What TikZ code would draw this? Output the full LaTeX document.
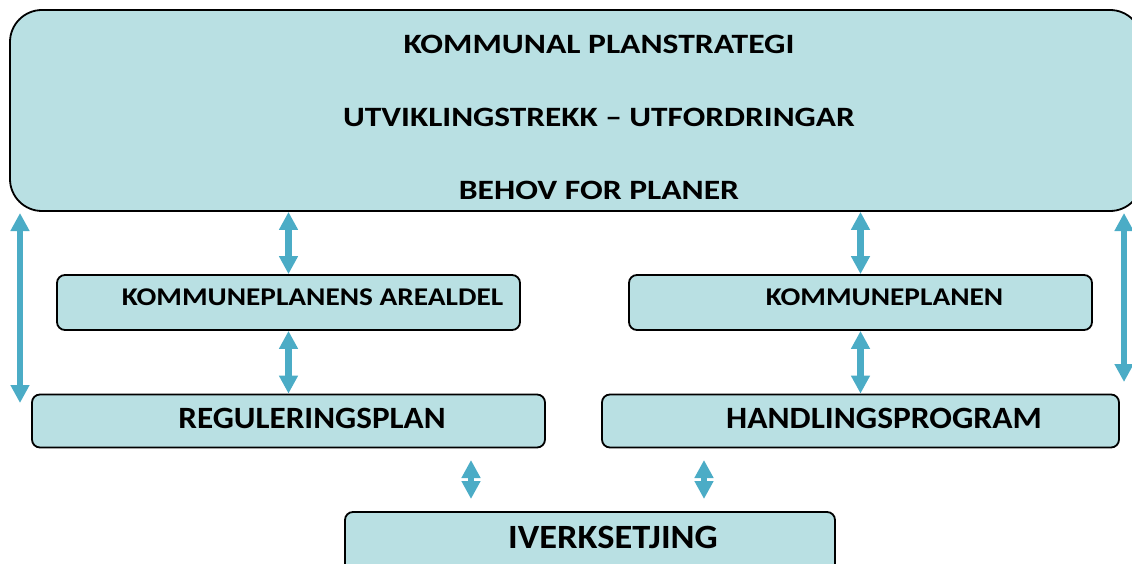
\documentclass[tikz,border=0pt]{standalone}
\usepackage{fontspec}
\setmainfont{Carlito}
\usetikzlibrary{arrows.meta,calc}
\definecolor{boxfill}{RGB}{185,224,227}
\definecolor{arrowblue}{RGB}{75,172,198}
\tikzset{
  planbox/.style={draw=black, line width=1.8pt, fill=boxfill, rounded corners=8pt,
    inner sep=0pt, font=\bfseries},
  dblarrow/.style={draw=arrowblue, line width=6.5pt,
    {Triangle[width=18pt,length=18pt]}-{Triangle[width=18pt,length=18pt]}},
}
\newcommand{\wide}[2]{\scalebox{#1}[1]{#2}}
\begin{document}
\begin{tikzpicture}[x=1pt,y=-1pt]
\useasboundingbox (0,0) rectangle (1132,564);
% top box
\node[planbox, rounded corners=32pt, minimum width=1132pt, minimum height=201pt] (top) at (576,110.5) {};
\node[font=\bfseries\fontsize{28}{73}\selectfont, align=center, inner sep=0pt] (toptext) at (599,117)
  {\wide{1.2}{KOMMUNAL PLANSTRATEGI}\\\wide{1.19}{UTVIKLINGSTREKK -- UTFORDRINGAR}\\\wide{1.2}{BEHOV FOR PLANER}};
% middle boxes
\node[planbox, minimum width=463pt, minimum height=55pt, text height=16.4pt, text depth=10pt,
  font=\bfseries\fontsize{25.5}{28}\selectfont] (areal) at (288.5,302.5)
  {\hspace*{48pt}\wide{1.15}{KOMMUNEPLANENS AREALDEL}};
\node[planbox, minimum width=463pt, minimum height=55pt, text height=16.4pt, text depth=10pt,
  font=\bfseries\fontsize{25.5}{28}\selectfont] (kplan) at (860.5,302.5)
  {\hspace*{48pt}\wide{1.15}{KOMMUNEPLANEN}};
\node[planbox, minimum width=513pt, minimum height=53pt, text height=20pt, text depth=6pt,
  font=\bfseries\fontsize{31}{34}\selectfont] (regul) at (288.5,421)
  {\hspace*{47pt}\wide{1.07}{REGULERINGSPLAN}};
\node[planbox, minimum width=517pt, minimum height=53pt, text height=20pt, text depth=6pt,
  font=\bfseries\fontsize{31}{34}\selectfont] (handl) at (860.5,421)
  {\hspace*{47pt}\wide{1.08}{HANDLINGSPROGRAM}};
\node[planbox, minimum width=490pt, minimum height=64pt, text height=21.9pt, text depth=12pt,
  font=\bfseries\fontsize{34}{38}\selectfont] (iverk) at (590,544)
  {\hspace*{46pt}\wide{1.07}{IVERKSETJING}};
% connectors
\draw[dblarrow] (areal.north |- top.south) -- (areal.north);
\draw[dblarrow] (areal.south) -- (regul.north);
\draw[dblarrow] (kplan.north |- top.south) -- (kplan.north);
\draw[dblarrow] (kplan.south) -- (handl.north);
\coordinate (lefttop) at (20,213);
\coordinate (leftbot) at (20,403);
\draw[dblarrow] (lefttop) -- (leftbot);
\coordinate (righttop) at (1124,213);
\coordinate (rightbot) at (1124,382);
\draw[dblarrow] (righttop) -- (rightbot);
\coordinate (s1top) at (471,460);
\coordinate (s1bot) at (471,499);
\draw[dblarrow] (s1top) -- (s1bot);
\coordinate (s2top) at (704,460);
\coordinate (s2bot) at (704,499);
\draw[dblarrow] (s2top) -- (s2bot);
\end{tikzpicture}
\end{document}
